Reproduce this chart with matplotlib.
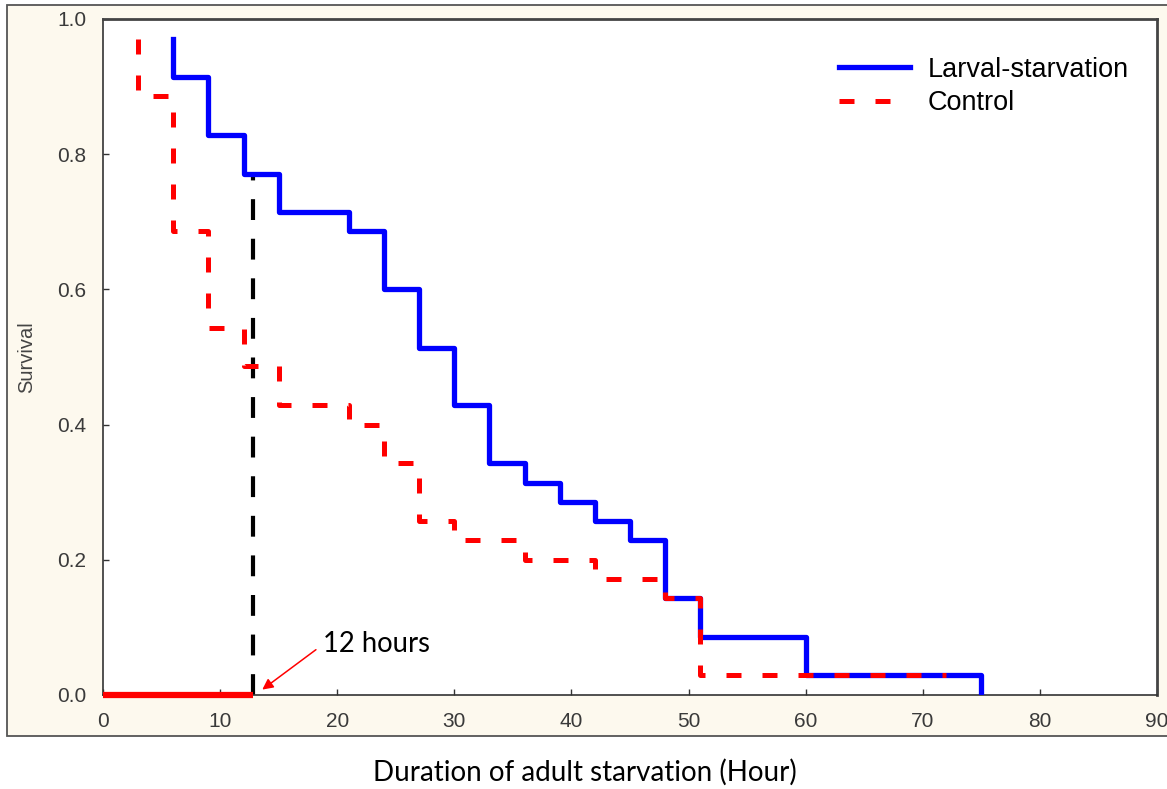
import matplotlib
matplotlib.use("Agg")
import matplotlib.pyplot as plt
from matplotlib.patches import Rectangle

# Kaplan-Meier style survival steps (drawstyle steps-post)
larval_hours = [6, 6, 9, 12, 15, 21, 24, 27, 30, 33, 36, 39, 42, 45, 48, 51, 60, 75]
larval_surv = [0.971, 0.914, 0.829, 0.771, 0.714, 0.686, 0.600, 0.514, 0.429,
               0.343, 0.314, 0.286, 0.257, 0.229, 0.143, 0.086, 0.029, 0.0]

control_hours = [3, 3, 6, 9, 12, 15, 21, 24, 27, 30, 36, 42, 48, 51, 72]
control_surv = [0.971, 0.886, 0.686, 0.543, 0.486, 0.429, 0.400, 0.343, 0.257,
                0.229, 0.200, 0.171, 0.143, 0.029, 0.029]

marker_hour = 12.8
marker_surv = 0.771

x_ticks = [0, 10, 20, 30, 40, 50, 60, 70, 80, 90]
y_ticks = [0.0, 0.2, 0.4, 0.6, 0.8, 1.0]

W, H = 1167, 789
fig = plt.figure(figsize=(W / 100, H / 100), dpi=100)
fig.patch.set_facecolor("white")

# cream panel behind the plot
fig.patches.append(Rectangle((7 / W, 1 - 736 / H), (1180 - 7) / W, (736 - 5) / H,
                             transform=fig.transFigure, facecolor="#FDF9EE",
                             edgecolor="#555555", lw=1.3, zorder=-5))

ax = fig.add_axes([103 / W, 1 - 695 / H, (1157 - 103) / W, (695 - 19) / H])
ax.set_facecolor("white")

ax.plot(larval_hours, larval_surv, drawstyle="steps-post", color="#0000FF",
        lw=3.8, label="Larval-starvation", zorder=3)
ax.plot(control_hours, control_surv, drawstyle="steps-post", color="#FF0000",
        lw=3.6, dashes=(3.0, 4.2), label="Control", zorder=4)

# 12 hour marker
ax.plot([marker_hour, marker_hour], [0, marker_surv], color="black", lw=3,
        dashes=(5, 4.5), zorder=2)
ax.plot([0, marker_hour], [0, 0], color="#FF0000", lw=4.5, zorder=5,
        solid_capstyle="butt", clip_on=False)

ax.annotate("12 hours", xy=(13.6, 0.008), xytext=(18.8, 0.075),
            fontsize=19.8, family="Lato", color="black", ha="left", va="center",
            arrowprops=dict(arrowstyle="-|>", color="red", lw=1.1,
                            mutation_scale=16, shrinkA=4, shrinkB=0,
                            relpos=(0, 0.5)))

ax.set_xlim(0, 90)
ax.set_ylim(0, 1.0)
ax.set_xticks(x_ticks)
ax.set_yticks(y_ticks)
ax.set_yticklabels([f"{v:.1f}" for v in y_ticks])
ax.tick_params(direction="in", length=4, width=1, color="#333333",
               labelsize=15, labelcolor="#3a3a3a", pad=12)
for lab in ax.get_xticklabels() + ax.get_yticklabels():
    lab.set_family("Liberation Sans")
for side in ["left", "bottom"]:
    ax.spines[side].set_color("#333333")
    ax.spines[side].set_linewidth(1.2)
for side in ["top", "right"]:
    ax.spines[side].set_color("#444444")
    ax.spines[side].set_linewidth(2)

leg = ax.legend(loc="upper left", bbox_to_anchor=(712 / 1054, 0.98), frameon=False,
                handlelength=2.6, handletextpad=0.65, labelspacing=0.28,
                prop={"family": "Liberation Sans", "size": 19.5})

fig.text(27 / W, 1 - 357 / H, "Survival", rotation=90, ha="center", va="center",
         fontsize=14.5, family="Liberation Sans", color="#444444")
fig.text(585 / W, 1 - 772 / H, "Duration of adult starvation (Hour)", ha="center",
         va="center", fontsize=20, family="Lato", color="black")

fig.savefig("out.png", dpi=100)
